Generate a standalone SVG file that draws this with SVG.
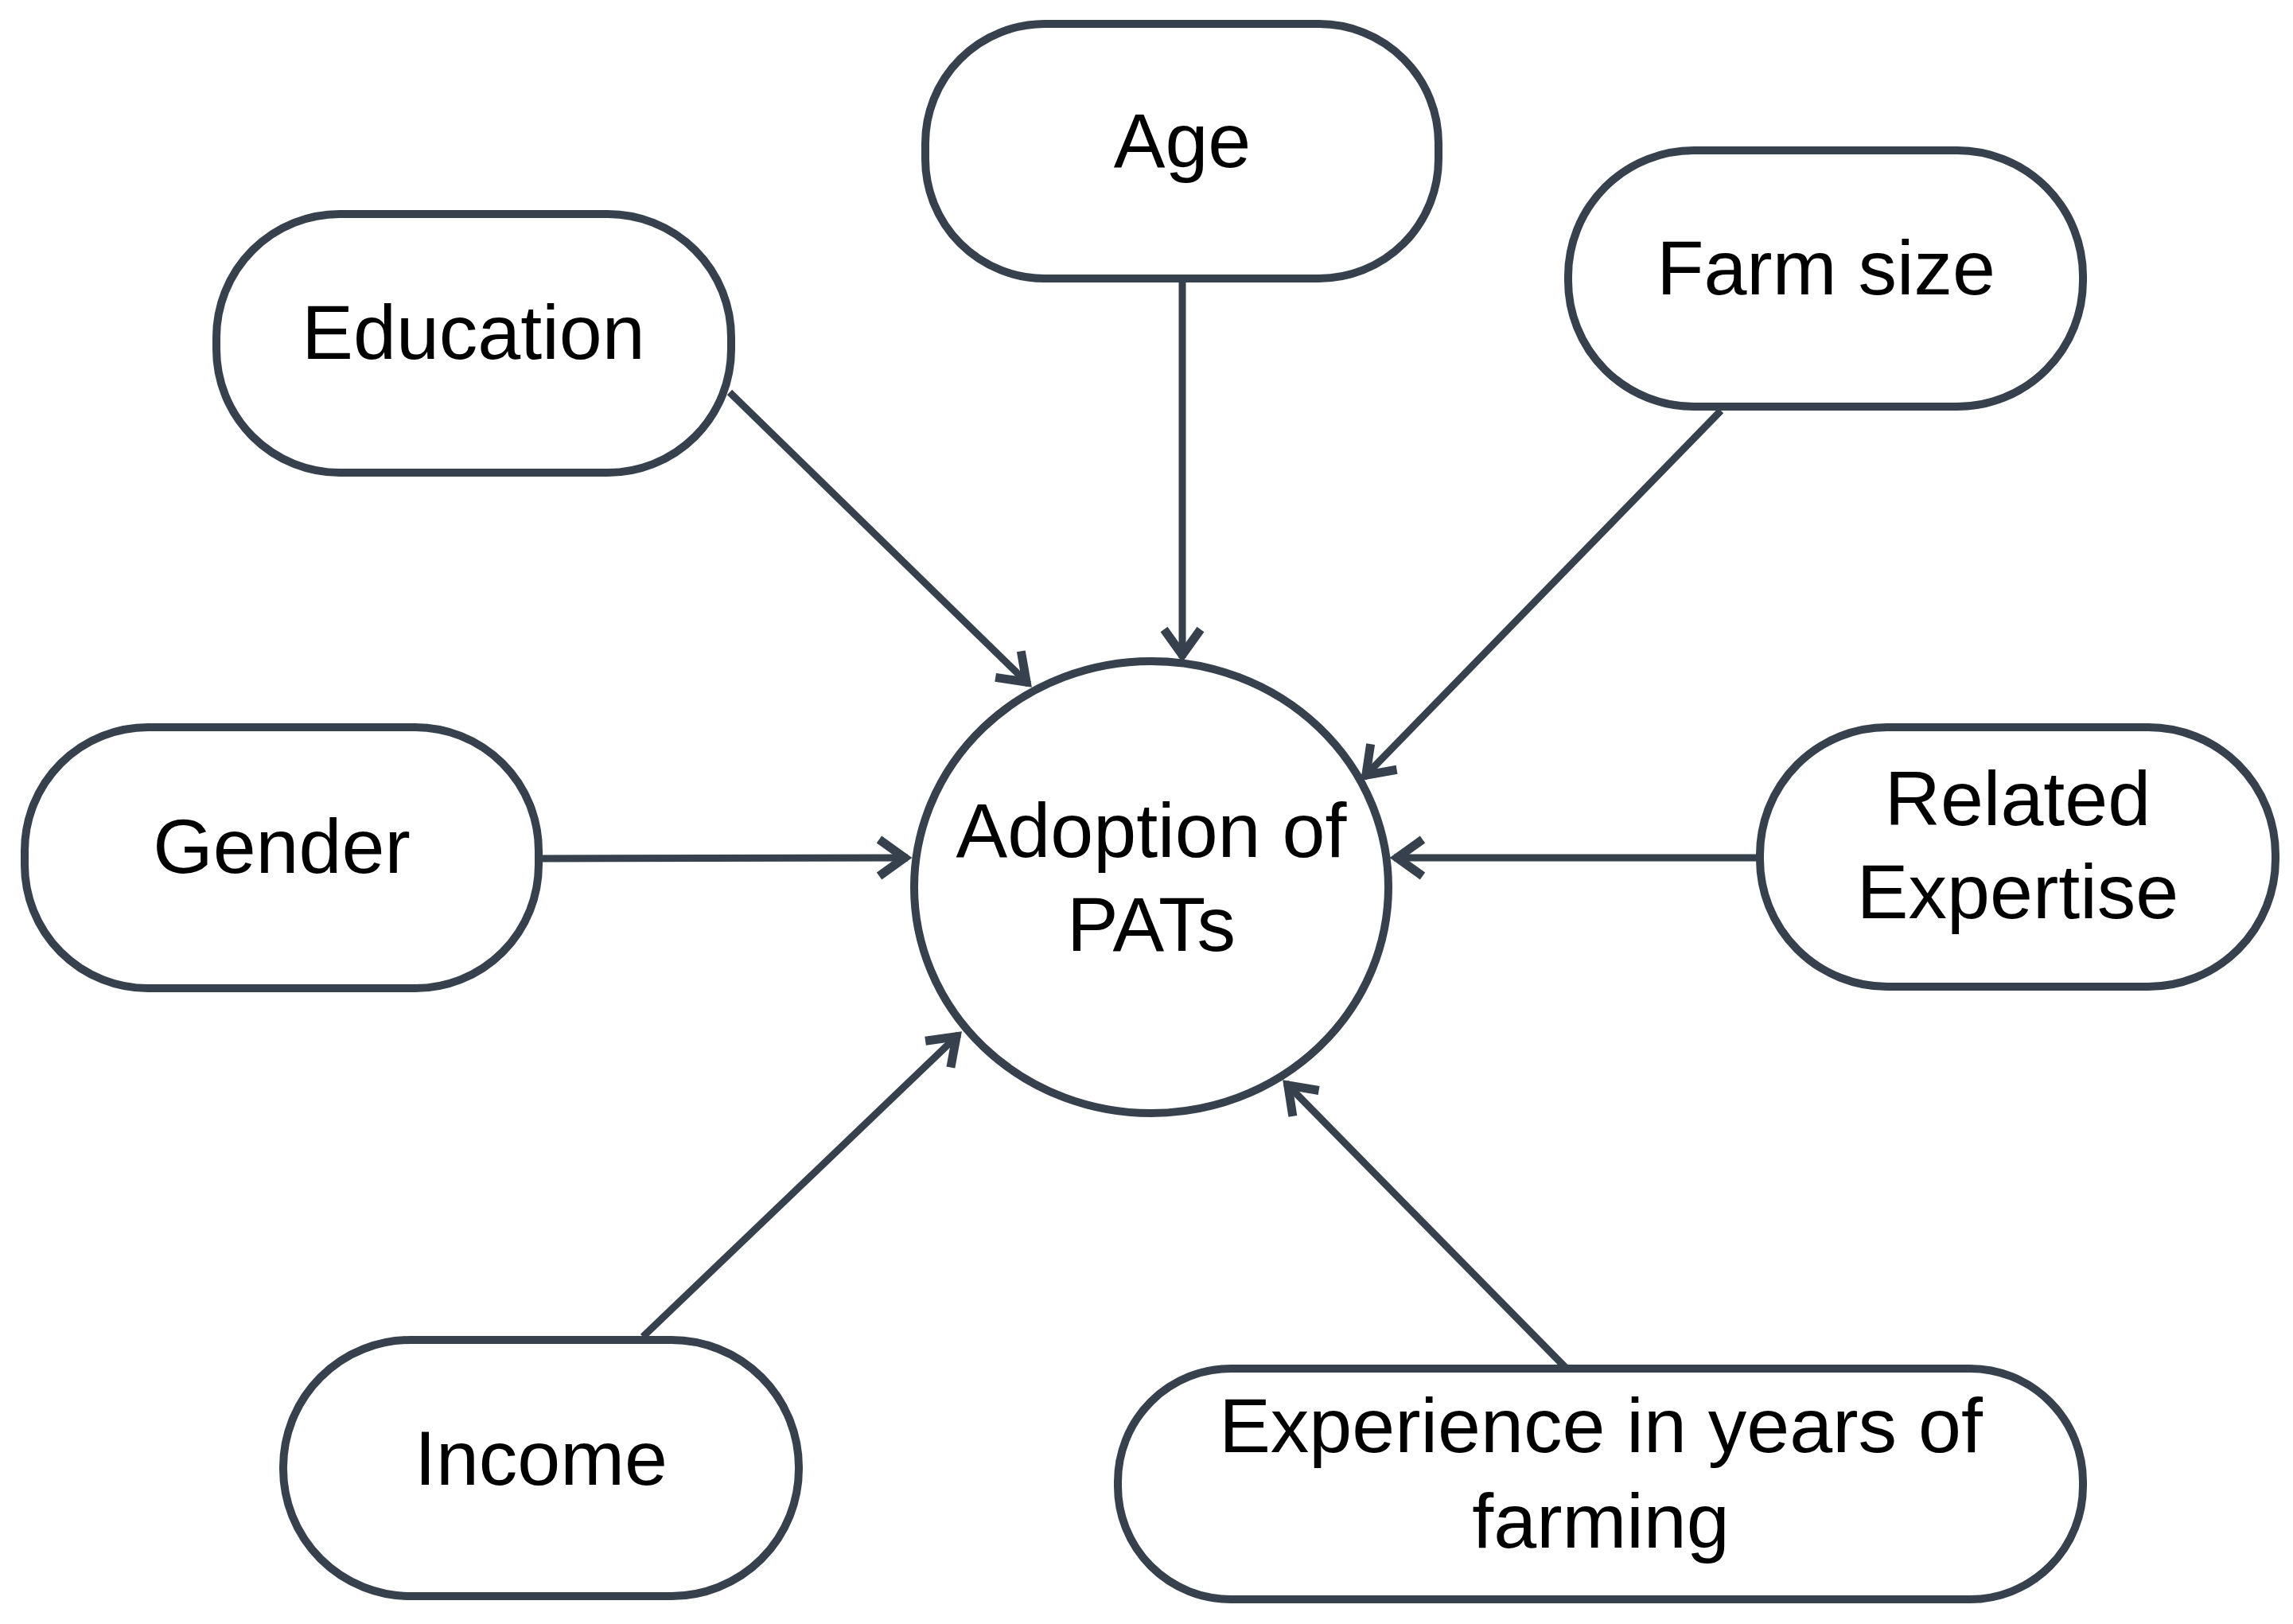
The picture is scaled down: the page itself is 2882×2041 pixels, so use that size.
<svg xmlns="http://www.w3.org/2000/svg" width="2882" height="2041" viewBox="0 0 2882 2041">
<style>
.node{fill:#ffffff;stroke:#36414d;stroke-width:10}
.lbl{font-family:"Liberation Sans",Arial,sans-serif;font-size:97px;fill:#000000;text-anchor:middle}
.conn{stroke:#36414d;stroke-width:9;fill:none;marker-end:url(#ah)}
</style>
<defs>
<marker id="ah" markerUnits="userSpaceOnUse" markerWidth="70" markerHeight="70" viewBox="-55 -35 70 70" refX="0" refY="0" orient="auto" overflow="visible">
<path d="M -36 -23 L -4 0 L -36 23" fill="none" stroke="#36414d" stroke-width="11" stroke-linejoin="miter"/>
</marker>
</defs>
<rect width="2882" height="2041" fill="#ffffff"/>
<g id="connectors">
<line class="conn" x1="917" y1="493" x2="1293" y2="860"/>
<line class="conn" x1="1486" y1="350" x2="1486" y2="827"/>
<line class="conn" x1="2163" y1="516" x2="1714" y2="977"/>
<line class="conn" x1="677" y1="1079" x2="1141" y2="1078"/>
<line class="conn" x1="2212" y1="1078" x2="1752" y2="1078"/>
<line class="conn" x1="808" y1="1680" x2="1205" y2="1300"/>
<line class="conn" x1="1968" y1="1719" x2="1616" y2="1361"/>
</g>
<g id="node-adoption">
<ellipse class="node" cx="1447" cy="1115" rx="298" ry="284"/>
<text class="lbl" x="1447" y="1077">Adoption of</text>
<text class="lbl" x="1447" y="1195">PATs</text>
</g>
<g id="node-age">
<rect class="node" x="1163" y="30" width="645" height="320" rx="150" ry="150"/>
<text class="lbl" x="1486" y="210">Age</text>
</g>
<g id="node-education">
<rect class="node" x="272" y="269" width="647" height="325" rx="155" ry="155"/>
<text class="lbl" x="595" y="451">Education</text>
</g>
<g id="node-farm-size">
<rect class="node" x="1971" y="189" width="647" height="322" rx="158" ry="158"/>
<text class="lbl" x="2295" y="370">Farm size</text>
</g>
<g id="node-gender">
<rect class="node" x="31" y="914" width="646" height="328" rx="155" ry="155"/>
<text class="lbl" x="354" y="1097">Gender</text>
</g>
<g id="node-related-expertise">
<rect class="node" x="2212" y="914" width="648" height="326" rx="160" ry="160"/>
<text class="lbl" x="2536" y="1037">Related</text>
<text class="lbl" x="2536" y="1154">Expertise</text>
</g>
<g id="node-income">
<rect class="node" x="356" y="1684" width="648" height="322" rx="160" ry="160"/>
<text class="lbl" x="680" y="1866">Income</text>
</g>
<g id="node-experience">
<rect class="node" x="1405" y="1720" width="1213" height="290" rx="142" ry="142"/>
<text class="lbl" x="2012" y="1825">Experience in years of</text>
<text class="lbl" x="2012" y="1945">farming</text>
</g>
</svg>
